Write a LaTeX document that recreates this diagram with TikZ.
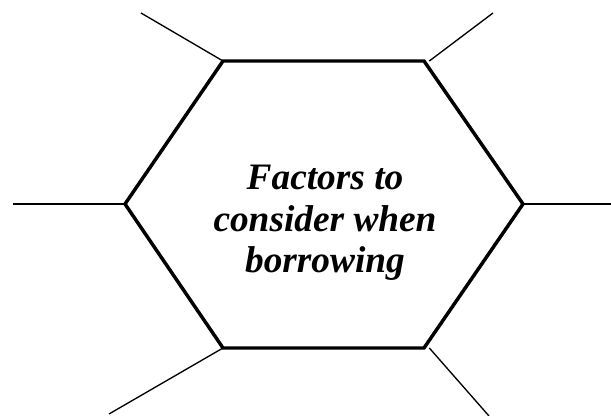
\documentclass[tikz,border=0pt]{standalone}
\usepackage{fontspec}
\setmainfont{Liberation Serif}
\begin{document}
\begin{tikzpicture}[x=0.75pt,y=-0.75pt,
  hexline/.style={line width=2.6pt,line join=miter},
  spoke/.style={line width=1pt},
  title/.style={align=center,font=\fontsize{28}{31}\selectfont\bfseries\itshape}]%
\useasboundingbox (0,0) rectangle (611,416);
% hexagon corners
\coordinate (hTL) at (223,61);
\coordinate (hTR) at (424,61);
\coordinate (hR) at (523,204);
\coordinate (hBR) at (424,348);
\coordinate (hBL) at (223,348);
\coordinate (hL) at (125,204);
% free ends of the spokes
\coordinate (sTL) at (141,13);
\coordinate (sTR) at (493,13);
\coordinate (sR) at (611,204);
\coordinate (sBR) at (489,416);
\coordinate (sBL) at (109,414);
\coordinate (sL) at (13,204);
\draw[spoke] (hTL) -- (sTL);
\draw[spoke] ([xshift=4]hTR) -- (sTR);
\draw[spoke] (hR) -- (sR);
\draw[spoke] ([xshift=4]hBR) -- (sBR);
\draw[spoke] (hBL) -- (sBL);
\draw[spoke] (hL) -- (sL);
\draw[hexline] (hTL) -- (hTR) -- (hR) -- (hBR) -- (hBL) -- (hL) -- cycle;
\node[title] (factors) at (325,223) {Factors to\\consider when\\borrowing};
\end{tikzpicture}
\end{document}
